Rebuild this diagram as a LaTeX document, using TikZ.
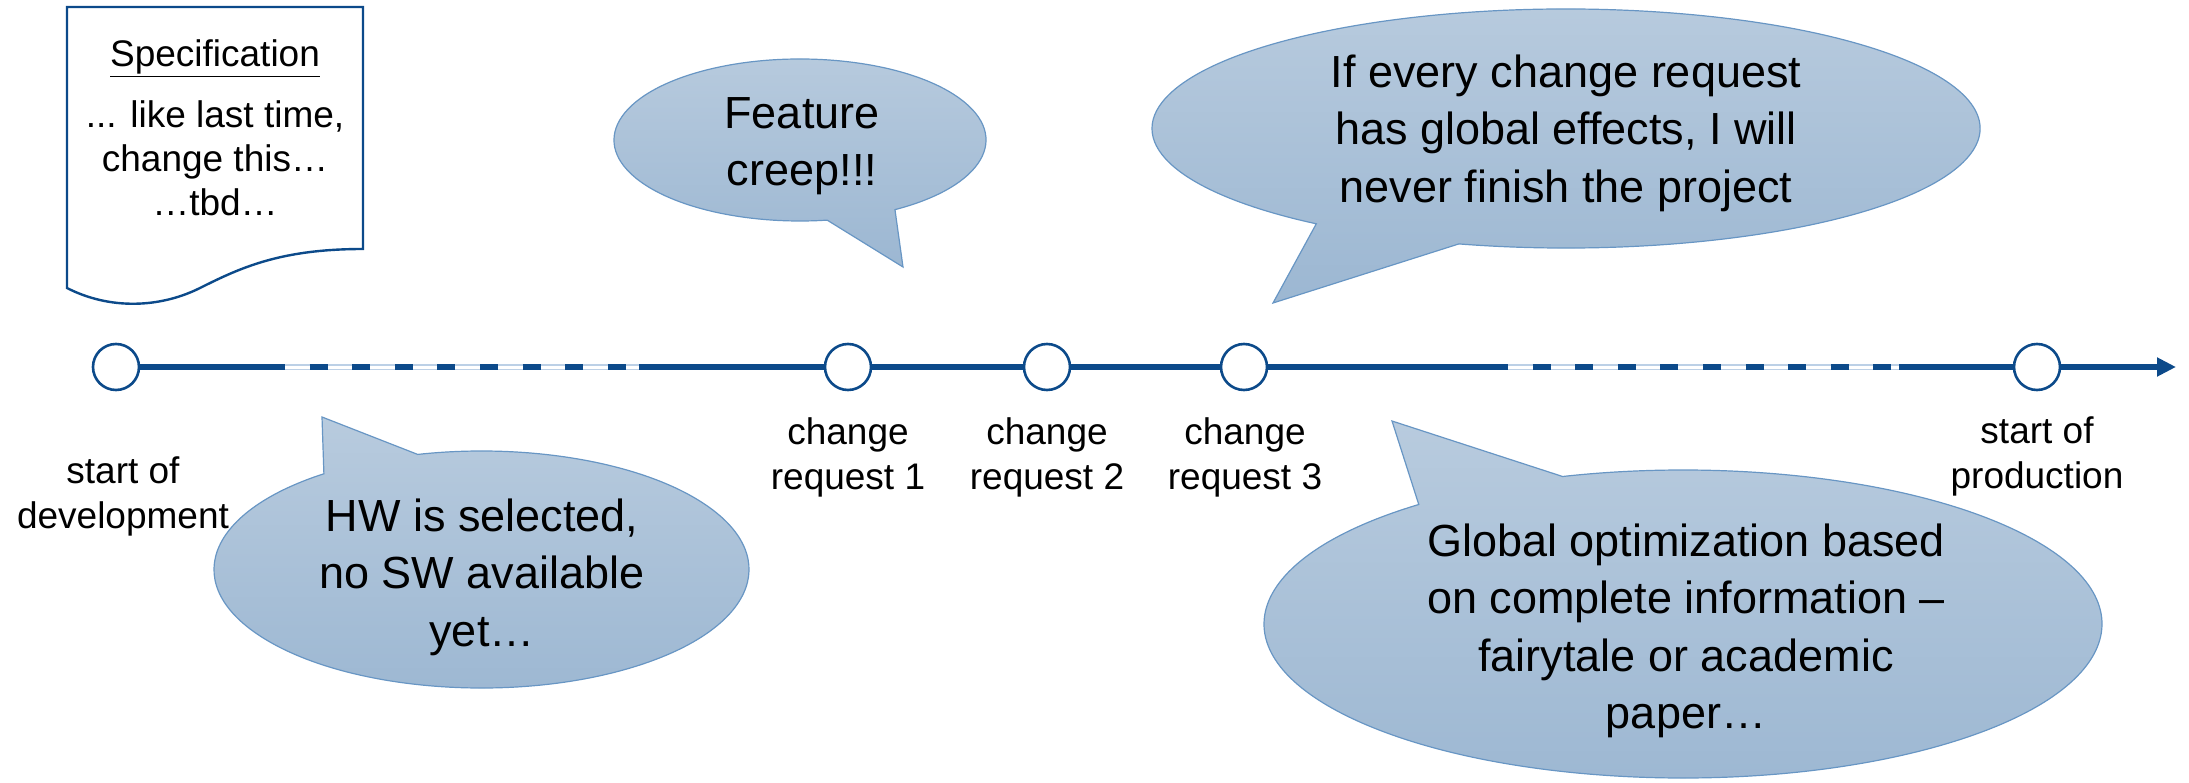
\documentclass[tikz,border=0pt]{standalone}
\usepackage{fontspec}
\setmainfont{Liberation Sans}
\usetikzlibrary{arrows.meta}
\definecolor{tlblue}{RGB}{12,74,138}
\definecolor{tllight}{RGB}{188,208,230}
\definecolor{bubline}{RGB}{104,150,196}
\definecolor{bubtop}{RGB}{184,203,222}
\definecolor{bubbot}{RGB}{156,183,210}
\begin{document}
\begin{tikzpicture}[x=1pt,y=-1pt,
  tlline/.style={line width=6pt, draw=tlblue},
  lightline/.style={line width=6pt, draw=tllight},
  whiteline/.style={line width=3pt, draw=white},
  dashline/.style={line width=6pt, draw=tlblue, dash pattern=on 18pt off 24.6pt, dash phase=18pt},
  milestone/.style={circle, draw=tlblue, line width=2.6pt, fill=white, minimum size=46pt, inner sep=0pt},
  lbl/.style={align=center, inner sep=0pt, font=\fontsize{37}{45}\selectfont},
  spectext/.style={inner sep=0pt, anchor=base, font=\fontsize{37}{41}\selectfont},
  bubtext/.style={align=center, inner sep=0pt, font=\fontsize{45}{57.5}\selectfont},
  bubble/.style={draw=bubline, line width=1.2pt, top color=bubtop, bottom color=bubbot},
]
\useasboundingbox (0,0) rectangle (2189,783);

% specification document
\draw[draw=tlblue, line width=2.4pt, fill=white] (67,7) -- (363,7) -- (363,249)
  .. controls (280,249) and (240,268) .. (200,288)
  .. controls (160,308) and (110,310) .. (67,288) -- cycle;
\node[spectext] (spectitle) at (215,67) {\underline{Specification}};
\node[spectext] (spec1) at (215,128) {... like last time,};
\node[spectext] (spec2) at (215,172) {change this…};
\node[spectext] (spec3) at (215,216) {…tbd…};

% timeline milestones
\node[milestone] (c0) at (116,367) {};
\node[milestone] (c1) at (848,367) {};
\node[milestone] (c2) at (1047,367) {};
\node[milestone] (c3) at (1244,367) {};
\node[milestone] (c4) at (2037,367) {};
\coordinate (d1s) at (285,367);
\coordinate (d1e) at (639,367);
\coordinate (d2s) at (1508,367);
\coordinate (d2e) at (1899,367);
\coordinate (tend) at (2176,367);

\draw[tlline] (c0) -- (d1s);
\draw[lightline] (d1s) -- (d1e);
\draw[whiteline] (d1s) -- (d1e);
\draw[dashline] (d1s) -- (d1e);
\draw[tlline] (d1e) -- (c1);
\draw[tlline] (c1) -- (c2);
\draw[tlline] (c2) -- (c3);
\draw[tlline] (c3) -- (d2s);
\draw[lightline] (d2s) -- (d2e);
\draw[whiteline] (d2s) -- (d2e);
\draw[dashline] (d2s) -- (d2e);
\draw[tlline] (d2e) -- (c4);
\draw[tlline, -{Triangle[length=19pt,width=18pt]}] (c4) -- (tend);

% labels
\node[lbl] (l0) at (123,496) {start of\\development};
\node[lbl] (l1) at (848,457) {change\\request 1};
\node[lbl] (l2) at (1047,457) {change\\request 2};
\node[lbl] (l3) at (1245,457) {change\\request 3};
\node[lbl] (l4) at (2037,456) {start of\\production};

% bubbles
\path[bubble] ([shift={(300.7:186pt and 81pt)}]800,140)
  arc[start angle=300.7, end angle=638.4, x radius=186pt, y radius=81pt]
  -- (903,267) -- cycle;
\node[bubtext] (tfeat) at (802,146) {Feature\\creep!!!};

\path[bubble] ([shift={(255:414pt and 119.5pt)}]1566,128.5)
  arc[start angle=255, end angle=592.9, x radius=414pt, y radius=119.5pt]
  -- (1273,303) -- cycle;
\node[bubtext] (ttop) at (1566,133) {If every change request\\has global effects, I will\\never finish the project};

\path[bubble] ([shift={(126.1:267.5pt and 118.5pt)}]481.5,569.5)
  arc[start angle=126.1, end angle=463.8, x radius=267.5pt, y radius=118.5pt]
  -- (322,417) -- cycle;
\node[bubtext] (thw) at (482,577) {HW is selected,\\no SW available\\yet…};

\path[bubble] ([shift={(129.1:419pt and 154pt)}]1683,624)
  arc[start angle=129.1, end angle=466.7, x radius=419pt, y radius=154pt]
  -- (1392,421) -- cycle;
\node[bubtext] (tglob) at (1686,631) {Global optimization based\\on complete information –\\fairytale or academic\\paper…};
\end{tikzpicture}
\end{document}
